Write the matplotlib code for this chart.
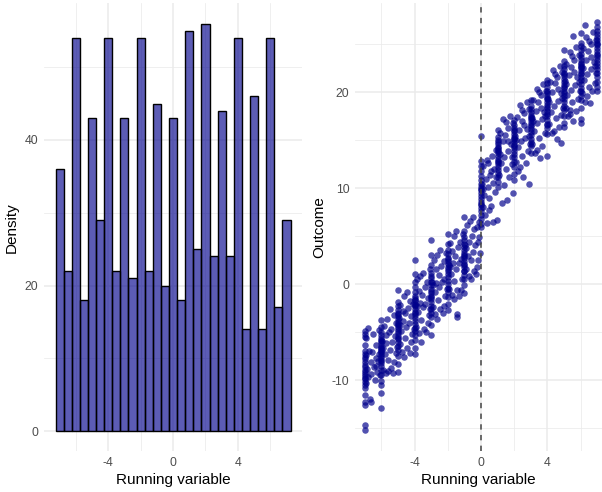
import matplotlib
matplotlib.use("Agg")
import matplotlib.pyplot as plt
import numpy as np

plt.rcParams["font.family"] = ["Liberation Sans", "DejaVu Sans"]
plt.rcParams["axes.unicode_minus"] = False

# histogram: bin centres (width 0.5) and counts
bin_centers = [-7.0, -6.5, -6.0, -5.5, -5.0, -4.5, -4.0, -3.5, -3.0, -2.5, -2.0, -1.5, -1.0, -0.5, 0.0,
               0.5, 1.0, 1.5, 2.0, 2.5, 3.0, 3.5, 4.0, 4.5, 5.0, 5.5, 6.0, 6.5, 7.0]
bin_counts = [36, 22, 54, 18, 43, 29, 54, 22, 43, 21, 54, 22, 45, 20, 43,
              18, 55, 25, 56, 24, 44, 24, 54, 14, 46, 14, 54, 17, 29]

# scatter: outcomes at integer values of the running variable
stripe_y = {
    -7: [-4.9, -5.2, -5.5, -6.3, -6.9, -7.3, -7.6, -7.8, -8.1, -8.4, -8.6, -8.9, -9.1, -9.3, -9.5,
         -9.7, -9.9, -10.2, -10.5, -10.8, -11.5, -12.2, -12.6, -14.6, -15.2],
    -6: [-3.7, -4.4, -5.0, -5.3, -5.6, -5.9, -6.1, -6.4, -6.6, -6.8, -7.0, -7.2, -7.5, -7.7, -8.0,
         -8.2, -8.5, -8.9, -9.4, -10.1, -10.5, -11.3, -12.9, -6.9, -5.8, -7.9],
    -5: [-0.6, -1.8, -2.3, -2.7, -3.0, -3.3, -3.6, -3.9, -4.1, -4.4, -4.6, -4.9, -5.1, -5.4, -5.7,
         -6.0, -6.4, -6.8, -7.5, -8.3, -9.1, -4.2, -3.1, -5.6],
    -4: [2.5, 1.1, 0.2, -0.3, -0.8, -1.2, -1.6, -2.0, -2.3, -2.6, -2.9, -3.2, -3.5, -3.8, -4.1,
         -4.5, -4.9, -5.3, -5.8, -6.6, -7.2, -2.1, -3.0, -1.4],
    -3: [4.6, 3.1, 2.0, 1.2, 0.7, 0.3, -0.1, -0.5, -0.9, -1.2, -1.5, -1.8, -2.2, -2.6, -3.0,
         -3.4, -4.2, -5.3, -0.7, -1.3, 0.9],
    -2: [5.3, 4.2, 3.6, 3.2, 2.8, 2.4, 2.1, 1.8, 1.4, 1.1, 0.8, 0.4, 0.0, -0.4, -0.8,
         -1.3, -2.0, -2.7, 1.6, 2.6],
    -1: [7.0, 5.6, 4.9, 4.6, 4.2, 3.9, 3.6, 3.3, 3.0, 2.7, 2.4, 2.1, 1.8, 1.4, 1.0,
         0.6, -0.1, -0.9, 3.1, 2.0],
    0: [15.5, 12.9, 12.3, 11.8, 11.3, 10.9, 10.5, 10.1, 9.8, 9.5, 9.2, 8.9, 8.6, 8.3, 8.0,
        7.6, 7.2, 6.8, 6.3, 6.0, 9.9, 8.4],
    1: [16.1, 15.4, 15.0, 14.6, 14.3, 14.0, 13.7, 13.4, 13.1, 12.8, 12.5, 12.2, 11.9, 11.6, 11.2,
        10.7, 10.1, 13.9, 12.9, 14.8],
    2: [17.1, 16.6, 16.3, 16.0, 15.7, 15.4, 15.1, 14.8, 14.5, 14.2, 13.9, 13.6, 13.3, 12.8, 12.2,
        11.5, 10.9, 15.2, 14.4, 16.1],
    3: [19.2, 18.6, 18.3, 18.0, 17.7, 17.4, 17.1, 16.8, 16.5, 16.2, 15.9, 15.6, 15.2, 14.8, 14.4,
        13.7, 17.3, 16.6],
    4: [21.3, 20.6, 20.2, 19.9, 19.6, 19.3, 19.0, 18.7, 18.4, 18.1, 17.8, 17.5, 17.1, 16.7, 16.3,
        15.7, 19.4, 18.5, 21.0],
    5: [24.4, 23.3, 22.8, 22.4, 22.0, 21.7, 21.4, 21.1, 20.8, 20.5, 20.2, 19.9, 19.6, 19.3, 19.0,
        18.6, 18.2, 17.5, 16.8, 16.4, 21.9, 20.6],
    6: [26.2, 25.2, 24.8, 24.4, 24.0, 23.7, 23.4, 23.1, 22.8, 22.5, 22.2, 21.9, 21.6, 21.3, 20.9,
        20.5, 20.1, 19.6, 19.2, 18.4, 17.2, 16.8, 23.0, 22.0],
    7: [27.3, 26.8, 26.4, 26.1, 25.8, 25.5, 25.2, 24.9, 24.6, 24.3, 24.0, 23.7, 23.4, 23.1, 22.8,
        22.4, 22.0, 21.6, 21.1, 20.6, 20.2, 25.0, 23.9],
}

# scatter: points between the integer values
gap_points = [
    (-6.95, -7.4), (-6.92, -10.3), (-6.9, -5.6), (-6.85, -8.8), (-6.8, -9.6), (-6.75, -6.9), (-6.7, -11.9),
    (-6.65, -8.1), (-6.6, -9.3), (-6.55, -7.0), (-6.5, -5.2), (-6.45, -8.6), (-6.4, -10.0), (-6.35, -7.7),
    (-6.3, -6.3), (-6.25, -9.1), (-6.2, -8.0), (-6.15, -4.7), (-6.12, -7.3), (-6.1, -9.4), (-6.05, -6.6),
    (-6.78, -4.5), (-6.62, -12.2), (-6.33, -8.5),
    (-5.95, -5.9), (-5.9, -8.9), (-5.85, -4.3), (-5.8, -7.2), (-5.75, -9.2), (-5.7, -6.1), (-5.65, -3.6),
    (-5.6, -7.9), (-5.55, -5.0), (-5.5, -6.8), (-5.45, -8.7), (-5.4, -4.6), (-5.35, -6.0), (-5.3, -9.2),
    (-5.25, -3.2), (-5.2, -5.4), (-5.15, -7.1), (-5.1, -4.0), (-5.05, -6.5), (-5.88, -6.6), (-5.62, -9.0),
    (-5.48, -2.6), (-5.22, -8.1), (-5.72, -5.3),
    (-4.95, -3.5), (-4.9, -6.2), (-4.85, -2.1), (-4.8, -4.9), (-4.75, -7.0), (-4.7, -3.8), (-4.65, -1.2),
    (-4.6, -5.6), (-4.55, -3.0), (-4.5, -4.4), (-4.45, -6.6), (-4.4, -2.5), (-4.35, -4.0), (-4.3, -7.1),
    (-4.25, -1.7), (-4.2, -3.3), (-4.15, -5.2), (-4.1, -2.0), (-4.05, -4.6), (-4.88, -4.2), (-4.62, -7.6),
    (-4.48, -0.8), (-4.22, -6.0), (-4.72, -2.8),
    (-3.95, -1.6), (-3.9, -4.4), (-3.85, 0.6), (-3.8, -2.9), (-3.75, -5.1), (-3.7, -1.9), (-3.65, 0.9),
    (-3.6, -3.7), (-3.55, -1.1), (-3.5, -2.4), (-3.45, -4.6), (-3.4, -0.3), (-3.35, -2.0), (-3.3, -5.0),
    (-3.25, 0.3), (-3.2, -1.4), (-3.15, -3.2), (-3.1, 1.6), (-3.05, -2.6), (-3.88, -2.3), (-3.62, -6.0),
    (-3.48, 1.2), (-3.22, -4.0), (-3.72, -0.7),
    (-2.95, 0.2), (-2.9, -2.4), (-2.85, 2.5), (-2.8, -0.8), (-2.75, -3.1), (-2.7, 0.1), (-2.65, 3.1),
    (-2.6, -1.6), (-2.55, 1.0), (-2.5, -0.3), (-2.45, -2.6), (-2.4, 1.9), (-2.35, 0.2), (-2.3, -3.0),
    (-2.25, 2.4), (-2.2, 0.6), (-2.15, -1.2), (-2.1, 3.3), (-2.05, -0.5), (-2.88, -0.1), (-2.62, -3.6),
    (-2.48, 3.6), (-2.22, -2.2), (-2.72, 1.6),
    (-1.95, 2.0), (-1.9, -0.5), (-1.85, 4.3), (-1.8, 1.1), (-1.75, -1.1), (-1.7, 2.2), (-1.65, 5.0),
    (-1.6, 0.4), (-1.55, 3.0), (-1.5, 1.6), (-1.45, -0.6), (-1.4, 3.9), (-1.35, 2.2), (-1.3, -1.2),
    (-1.25, 4.4), (-1.2, 2.6), (-1.15, 0.6), (-1.1, 5.3), (-1.05, 1.4), (-1.88, 1.8), (-1.62, -1.5),
    (-1.48, 5.6), (-1.22, -0.6), (-1.72, 3.5), (-1.45, -3.1), (-1.42, -3.4),
    (-0.95, 4.1), (-0.9, 1.6), (-0.85, 6.2), (-0.8, 3.0), (-0.75, 0.9), (-0.7, 4.4), (-0.65, 6.6),
    (-0.6, 2.5), (-0.55, 5.0), (-0.5, 3.4), (-0.45, 1.4), (-0.4, 5.8), (-0.35, 4.1), (-0.3, 1.1),
    (-0.25, 6.0), (-0.2, 4.4), (-0.15, 2.5), (-0.1, 6.5), (-0.05, 3.3), (-0.88, 3.8), (-0.62, 0.6),
    (-0.48, 7.0), (-0.22, 1.8), (-0.12, 4.9),
    (0.05, 10.5), (0.1, 8.1), (0.15, 12.3), (0.2, 9.3), (0.25, 7.2), (0.3, 11.0), (0.35, 6.4),
    (0.4, 10.1), (0.45, 12.6), (0.5, 9.0), (0.55, 11.4), (0.6, 8.2), (0.65, 13.4), (0.7, 10.6),
    (0.73, 6.5), (0.8, 12.0), (0.85, 9.6), (0.9, 14.0), (0.95, 6.7), (0.12, 9.9), (0.38, 13.0),
    (0.62, 11.8), (0.88, 11.2), (0.48, 7.8),
    (1.05, 14.2), (1.1, 11.4), (1.15, 15.8), (1.2, 12.7), (1.25, 8.5), (1.3, 14.9), (1.35, 17.2),
    (1.4, 13.3), (1.45, 15.6), (1.5, 12.0), (1.55, 8.8), (1.6, 16.3), (1.65, 13.9), (1.7, 11.2),
    (1.75, 17.5), (1.8, 14.6), (1.85, 12.5), (1.9, 16.8), (1.93, 9.5), (1.12, 13.6), (1.38, 10.4),
    (1.62, 14.9), (1.88, 13.3), (1.48, 16.9),
    (2.05, 15.5), (2.1, 12.8), (2.15, 17.4), (2.2, 14.3), (2.25, 11.8), (2.3, 16.1), (2.35, 18.7),
    (2.4, 14.9), (2.45, 17.0), (2.5, 13.4), (2.55, 11.2), (2.6, 17.9), (2.65, 15.3), (2.7, 12.6),
    (2.75, 19.0), (2.8, 16.2), (2.85, 13.9), (2.9, 18.3), (2.95, 14.6), (2.12, 15.0), (2.38, 12.2),
    (2.62, 16.6), (2.88, 15.5), (2.48, 18.2), (2.9, 10.5),
    (3.05, 17.3), (3.1, 14.6), (3.15, 19.2), (3.2, 16.0), (3.25, 13.7), (3.3, 18.1), (3.35, 20.4),
    (3.4, 16.8), (3.45, 19.0), (3.5, 15.3), (3.55, 13.2), (3.6, 19.7), (3.65, 17.2), (3.7, 14.4),
    (3.75, 20.9), (3.8, 18.0), (3.85, 15.8), (3.9, 20.2), (3.95, 16.6), (3.12, 17.0), (3.38, 14.0),
    (3.62, 18.4), (3.88, 17.5), (3.48, 20.0), (3.98, 13.4),
    (4.05, 19.3), (4.1, 16.7), (4.15, 21.1), (4.2, 18.0), (4.25, 15.8), (4.3, 20.0), (4.35, 22.3),
    (4.4, 18.6), (4.45, 21.0), (4.5, 17.3), (4.55, 15.2), (4.6, 21.6), (4.65, 19.1), (4.7, 16.4),
    (4.75, 22.8), (4.8, 19.9), (4.85, 17.6), (4.9, 22.1), (4.95, 18.4), (4.12, 19.0), (4.38, 16.0),
    (4.62, 20.4), (4.88, 19.4), (4.48, 21.9), (4.85, 14.7),
    (5.05, 21.2), (5.1, 18.4), (5.15, 23.0), (5.2, 19.7), (5.25, 17.5), (5.3, 21.8), (5.35, 24.2),
    (5.4, 20.3), (5.45, 22.7), (5.5, 19.0), (5.55, 17.0), (5.6, 23.4), (5.65, 20.8), (5.7, 18.1),
    (5.75, 24.7), (5.8, 21.6), (5.85, 19.3), (5.9, 23.9), (5.95, 20.1), (5.12, 20.9), (5.38, 17.8),
    (5.62, 22.1), (5.88, 21.1), (5.48, 23.8), (5.55, 25.9), (5.36, 18.2),
    (6.05, 22.7), (6.1, 19.9), (6.15, 24.6), (6.2, 21.3), (6.25, 19.0), (6.3, 23.4), (6.35, 25.8),
    (6.4, 21.9), (6.45, 24.3), (6.5, 20.6), (6.55, 18.9), (6.6, 25.0), (6.65, 22.4), (6.7, 20.2),
    (6.75, 26.3), (6.8, 23.2), (6.85, 21.0), (6.9, 25.5), (6.95, 22.0), (6.12, 22.5), (6.38, 19.6),
    (6.62, 23.7), (6.88, 22.8), (6.48, 25.4), (6.25, 27.0),
]

run_x = [k for k, ys in stripe_y.items() for _ in ys] + [p[0] for p in gap_points]
outcome = [y for ys in stripe_y.values() for y in ys] + [p[1] for p in gap_points]

grid_major = "#EBEBEB"
tick_col = "#4D4D4D"


def style_axes(ax):
    for s in ax.spines.values():
        s.set_visible(False)
    ax.tick_params(axis="both", which="both", length=0, labelsize=8.8, labelcolor=tick_col, pad=4)
    ax.grid(True, which="major", color=grid_major, linewidth=1.1)
    ax.grid(True, which="minor", color=grid_major, linewidth=0.55)
    ax.set_axisbelow(True)


fig = plt.figure(figsize=(6.02, 4.92), dpi=100)

ax1 = fig.add_axes([0.0728, 0.0825, 0.4289, 0.911])
ax1.bar(bin_centers, bin_counts, width=0.5, facecolor=(0, 0, 0.545, 0.64),
        edgecolor="black", linewidth=1.0)
ax1.set_xlim(-7.975, 7.96)
ax1.set_ylim(-2.8, 58.8)
ax1.set_xticks([-4, 0, 4])
ax1.set_xticks([-6, -2, 2, 6], minor=True)
ax1.set_yticks([0, 20, 40])
ax1.set_yticks([10, 30, 50], minor=True)
style_axes(ax1)
ax1.set_xlabel("Running variable", fontsize=11, labelpad=3)
ax1.set_ylabel("Density", fontsize=11, labelpad=4)

ax2 = fig.add_axes([0.5897, 0.0825, 0.4103, 0.911])
ax2.scatter(run_x, outcome, s=22, color="#00008B", alpha=0.68, linewidths=0)
ax2.axvline(0, color="#444444", linewidth=1.1, linestyle=(0, (3.5, 3.5)))
ax2.set_xlim(-7.59, 7.29)
ax2.set_ylim(-17.4, 29.3)
ax2.set_xticks([-4, 0, 4])
ax2.set_xticks([-6, -2, 2, 6], minor=True)
ax2.set_yticks([-10, 0, 10, 20])
ax2.set_yticks([-15, -5, 5, 15, 25], minor=True)
style_axes(ax2)
ax2.set_xlabel("Running variable", fontsize=11, labelpad=3)
ax2.set_ylabel("Outcome", fontsize=11, labelpad=4)

fig.savefig("out.png", dpi=100, facecolor="white")
